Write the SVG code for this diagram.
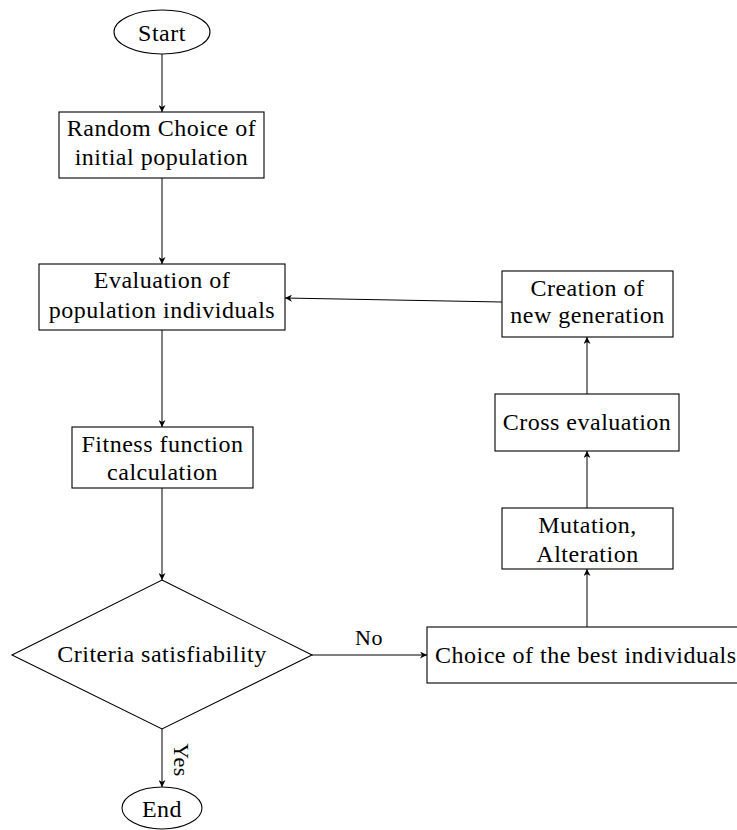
<svg xmlns="http://www.w3.org/2000/svg" width="737" height="830" viewBox="0 0 737 830">
  <style>
    .shape { fill: #fff; stroke: #000; stroke-width: 1.1; }
    .edge { fill: none; stroke: #000; stroke-width: 1; }
    text { font-family: "Liberation Serif", "Times New Roman", serif; font-size: 24px; letter-spacing: 0.5px; fill: #000; text-anchor: middle; }
    .lbl { font-size: 22px; }
  </style>
  <defs>
    <marker id="arrow" viewBox="0 0 10 10" refX="10" refY="5" markerWidth="7" markerHeight="7" markerUnits="userSpaceOnUse" orient="auto">
      <path d="M0,0 L10,5 L0,10 L3,5 Z" fill="#000"/>
    </marker>
  </defs>

  <rect width="737" height="830" fill="#fff"/>

  <!-- connectors -->
  <g id="connectors" class="edge" marker-end="url(#arrow)">
    <line x1="162" y1="54" x2="162" y2="112"/>
    <line x1="162" y1="178" x2="162" y2="264"/>
    <line x1="162" y1="330" x2="162" y2="427"/>
    <line x1="162" y1="488" x2="162" y2="580"/>
    <line x1="312" y1="655" x2="427" y2="655"/>
    <line x1="587" y1="627" x2="587" y2="569"/>
    <line x1="587" y1="508" x2="587" y2="451"/>
    <line x1="587" y1="394" x2="587" y2="337"/>
    <line x1="502" y1="302" x2="285" y2="298"/>
    <line x1="162" y1="729" x2="162" y2="787"/>
  </g>
  <g id="edge-labels">
    <text class="lbl" x="369" y="645">No</text>
    <text class="lbl" transform="translate(174,760) rotate(90)">Yes</text>
  </g>

  <g id="start">
    <ellipse class="shape" cx="162" cy="32" rx="48" ry="22"/>
    <text x="162" y="41">Start</text>
  </g>

  <g id="random-choice">
    <rect class="shape" x="59" y="112" width="205" height="66"/>
    <text x="161.5" y="136">Random Choice of</text>
    <text x="161.5" y="165">initial population</text>
  </g>

  <g id="evaluation">
    <rect class="shape" x="39" y="264" width="246" height="66"/>
    <text x="162" y="288">Evaluation of</text>
    <text x="162" y="318">population individuals</text>
  </g>

  <g id="fitness">
    <rect class="shape" x="72" y="427" width="181" height="61"/>
    <text x="162.5" y="452">Fitness function</text>
    <text x="162.5" y="480">calculation</text>
  </g>

  <g id="criteria">
    <polygon class="shape" points="162,580 312,655 162,729 12,655"/>
    <text x="162" y="662">Criteria satisfiability</text>
  </g>

  <g id="end">
    <ellipse class="shape" cx="162" cy="808" rx="40" ry="21"/>
    <text x="162" y="817">End</text>
  </g>

  <g id="best-choice">
    <rect class="shape" x="427" y="627" width="340" height="56"/>
    <text x="435" y="663" style="text-anchor:start">Choice of the best individuals</text>
  </g>

  <g id="mutation">
    <rect class="shape" x="502" y="508" width="171" height="61"/>
    <text x="587.5" y="533">Mutation,</text>
    <text x="587.5" y="562">Alteration</text>
  </g>

  <g id="cross-evaluation">
    <rect class="shape" x="495" y="394" width="184" height="57"/>
    <text x="587" y="430">Cross evaluation</text>
  </g>

  <g id="new-generation">
    <rect class="shape" x="502" y="271" width="171" height="66"/>
    <text x="587.5" y="296">Creation of</text>
    <text x="587.5" y="323">new generation</text>
  </g>
</svg>
